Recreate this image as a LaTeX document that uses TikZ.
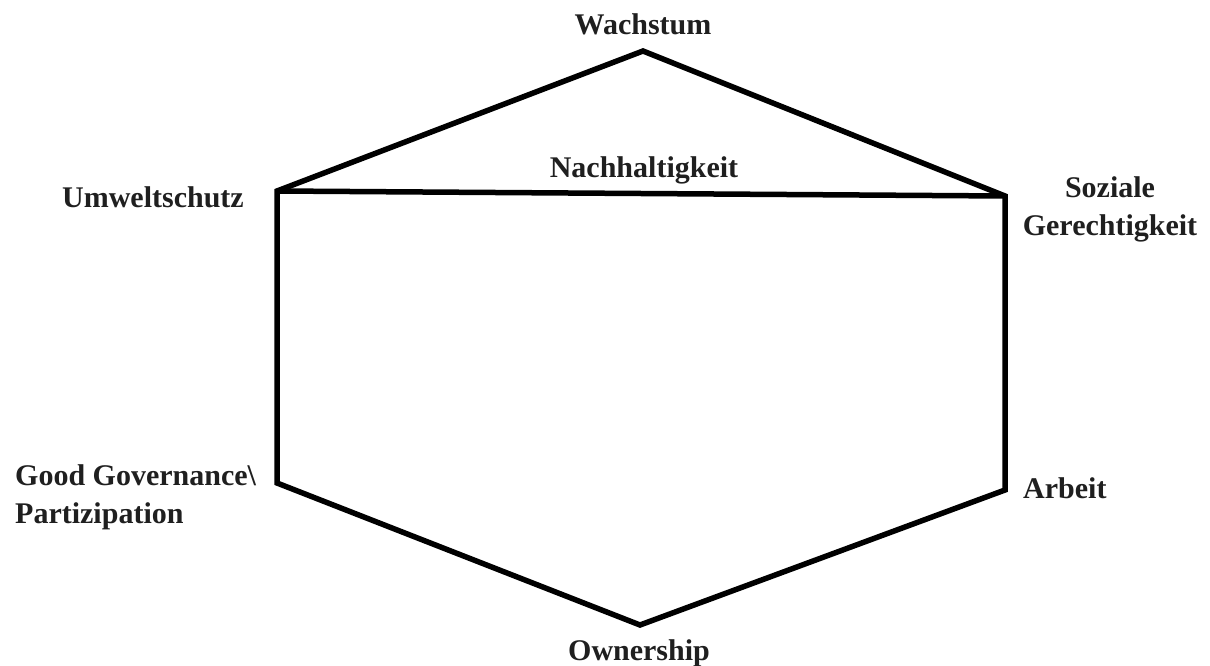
\documentclass[tikz,border=0pt]{standalone}
\usepackage{fontspec}
\setmainfont{Liberation Serif}
\begin{document}
\begin{tikzpicture}[x=1pt,y=-1pt,
  edge/.style={line width=5.5pt,line join=miter,draw=black},
  lbl/.style={font=\fontsize{30}{38}\selectfont\bfseries,inner sep=0pt,text=black!88}]
\useasboundingbox (0,0) rectangle (1210,666);
\coordinate (top) at (643,51);
\coordinate (ul) at (277,191);
\coordinate (ur) at (1005,196);
\coordinate (ll) at (277,483);
\coordinate (lr) at (1005,490);
\coordinate (bot) at (640,625);
\draw[edge] (top) -- (ur) -- (lr) -- (bot) -- (ll) -- (ul) -- cycle;
\draw[edge] (ul) -- (ur);
\node[lbl,anchor=base] (wachstum) at (643,35) {Wachstum};
\node[lbl,anchor=base] (nachhalt) at (644,178) {Nachhaltigkeit};
\node[lbl,anchor=base] (umwelt) at (153,207) {Umweltschutz};
\node[lbl,anchor=base,align=center] (sozial) at (1110,235) {Soziale\\Gerechtigkeit};
\node[lbl,anchor=base west,align=left] (good) at (15,523) {Good Governance\textbackslash\\Partizipation};
\node[lbl,anchor=base west] (arbeit) at (1023,498) {Arbeit};
\node[lbl,anchor=base] (owner) at (639,660) {Ownership};
\end{tikzpicture}
\end{document}
